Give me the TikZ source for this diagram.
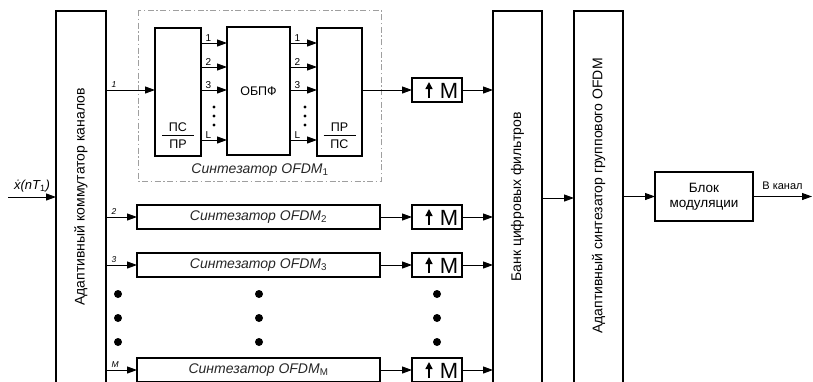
\documentclass[tikz,border=0pt]{standalone}
\usepackage{fontspec}
\setmainfont{Liberation Sans}
\usetikzlibrary{arrows.meta, positioning, calc}

\tikzset{
  blk/.style={draw, line width=1.8pt, inner sep=0pt, outer sep=0pt},
  sig/.style={line width=1pt, -{Triangle[length=10pt,width=7pt]}},
  lab/.style={font=\fontsize{10}{11}\selectfont, inner sep=1pt},
  chlab/.style={font=\fontsize{8.5}{9}\selectfont\itshape, inner sep=1pt},
  txt/.style={font=\fontsize{14}{16}\selectfont},
  midtxt/.style={font=\fontsize{12.5}{14}\selectfont},
  syntxt/.style={font=\fontsize{14}{16}\selectfont\itshape},
  mtxt/.style={font=\fontsize{22}{23}\selectfont, inner sep=0pt},
}

\begin{document}
\begin{tikzpicture}[x=1pt, y=-1pt]
  \useasboundingbox (0,0) rectangle (813,381);
  \clip (0,0) rectangle (813,381);

  % tall blocks
  \node[blk, minimum width=50pt, minimum height=395pt] (comm) at (81,208.5) {};
  \node[txt, rotate=90] (commtxt) at (81,197) {Адаптивный коммутатор каналов};
  \node[blk, minimum width=49pt, minimum height=395pt] (bank) at (517.5,208.5) {};
  \node[txt, rotate=90] (banktxt) at (517.5,197) {Банк цифровых фильтров};
  \node[blk, minimum width=49pt, minimum height=395pt] (grp) at (598.5,208.5) {};
  \node[txt, rotate=90] (grptxt) at (598.5,196) {Адаптивный синтезатор группового OFDM};
  \node[blk, minimum width=98pt, minimum height=49pt, align=center,
        font=\fontsize{13.5}{15}\selectfont] (mod) at (704,196.5) {Блок\\модуляции};

  % input / output
  \coordinate (in) at (8,197);
  \draw[sig] (in) -- (in -| comm.west)
    node[midway, above=3pt, font=\fontsize{13}{14}\selectfont\itshape, inner sep=1pt] {ẋ(nT\textsubscript{\upshape 1})};
  \coordinate (out) at (812,196.5);
  \draw[sig] (mod.east) -- (out) node[font=\fontsize{11}{12}\selectfont, inner sep=1pt, midway, above=5pt] {В канал};

  % synthesizer 1 (detailed)
  \draw[gray!75, line width=0.9pt, dash pattern=on 6pt off 2.5pt on 1.5pt off 2.5pt] (138,10) rectangle (381,181);
  \node[syntxt, text=black!85] (syn1lab) at (260,170) {Синтезатор OFDM\textsubscript{\upshape 1}};
  \node[blk, minimum width=46pt, minimum height=128pt] (ps) at (178,92) {};
  \node[blk, minimum width=63pt, minimum height=128pt, midtxt] (obpf) at (258.5,91) {ОБПФ};
  \node[blk, minimum width=45pt, minimum height=128pt] (pr) at (339.5,92) {};
  \node[midtxt] (psup) at (178,127) {ПС};
  \node[midtxt] (psdn) at (178,144) {ПР};
  \draw[line width=0.9pt] (162,135.5) -- (194,135.5);
  \node[midtxt] (prup) at (339.5,127) {ПР};
  \node[midtxt] (prdn) at (339.5,144) {ПС};
  \draw[line width=0.9pt] (323.5,135.5) -- (355.5,135.5);
  \foreach \y/\t in {43/1, 67/2, 90/3, 140/L} {
    \draw[sig] (ps.east |- 0,\y) -- (obpf.west |- 0,\y)
      node[lab, pos=0, anchor=south west, xshift=3pt] {\t};
    \draw[sig] (obpf.east |- 0,\y) -- (pr.west |- 0,\y)
      node[lab, pos=0, anchor=south west, xshift=3pt] {\t};
  }
  \foreach \y in {107,116,125} {
    \fill (214,\y) circle[radius=1.6pt];
    \fill (305,\y) circle[radius=1.6pt];
  }

  % other synthesizers
  \foreach \n/\y/\s in {2/217/2, 3/265/3, 4/370/M}
    \node[blk, minimum width=243pt, minimum height=24pt, syntxt, text=black!85] (s\n) at (258.5,\y) {Синтезатор OFDM\textsubscript{\upshape\s}};

  % upsamplers
  \foreach \n/\y in {1/90, 2/217, 3/265, 4/370} {
    \node[blk, minimum width=50pt, minimum height=24pt] (m\n) at (437,\y) {};
    \draw[line width=1.4pt, -{Triangle[length=7pt,width=7pt]}] ($(m\n.center)+(-8,8)$) -- ($(m\n.center)+(-8,-8)$);
    \node[mtxt] (mt\n) at ($(m\n.center)+(12,0.5)$) {M};
    \draw[sig] (m\n.east) -- (bank.west |- m\n.east);
  }

  % connections
  \draw[sig] (comm.east |- 0,90) -- (ps.west |- 0,90) node[chlab, pos=0, anchor=south west, xshift=4pt, yshift=1pt] {1};
  \draw[sig] (pr.east |- 0,90) -- (m1.west);
  \foreach \n/\s in {2/2, 3/3, 4/M} {
    \draw[sig] (comm.east |- s\n.west) -- (s\n.west) node[chlab, pos=0, anchor=south west, xshift=4pt, yshift=1pt] {\s};
    \draw[sig] (s\n.east) -- (m\n.west);
  }
  \draw[sig] (bank.east |- 0,198) -- (grp.west |- 0,198);
  \draw[sig] (grp.east |- mod.west) -- (mod.west);

  % dots
  \foreach \y in {294,318,342} {
    \fill (118,\y) circle[radius=4pt];
    \fill (259,\y) circle[radius=4pt];
    \fill (437,\y) circle[radius=4pt];
  }
\end{tikzpicture}
\end{document}
